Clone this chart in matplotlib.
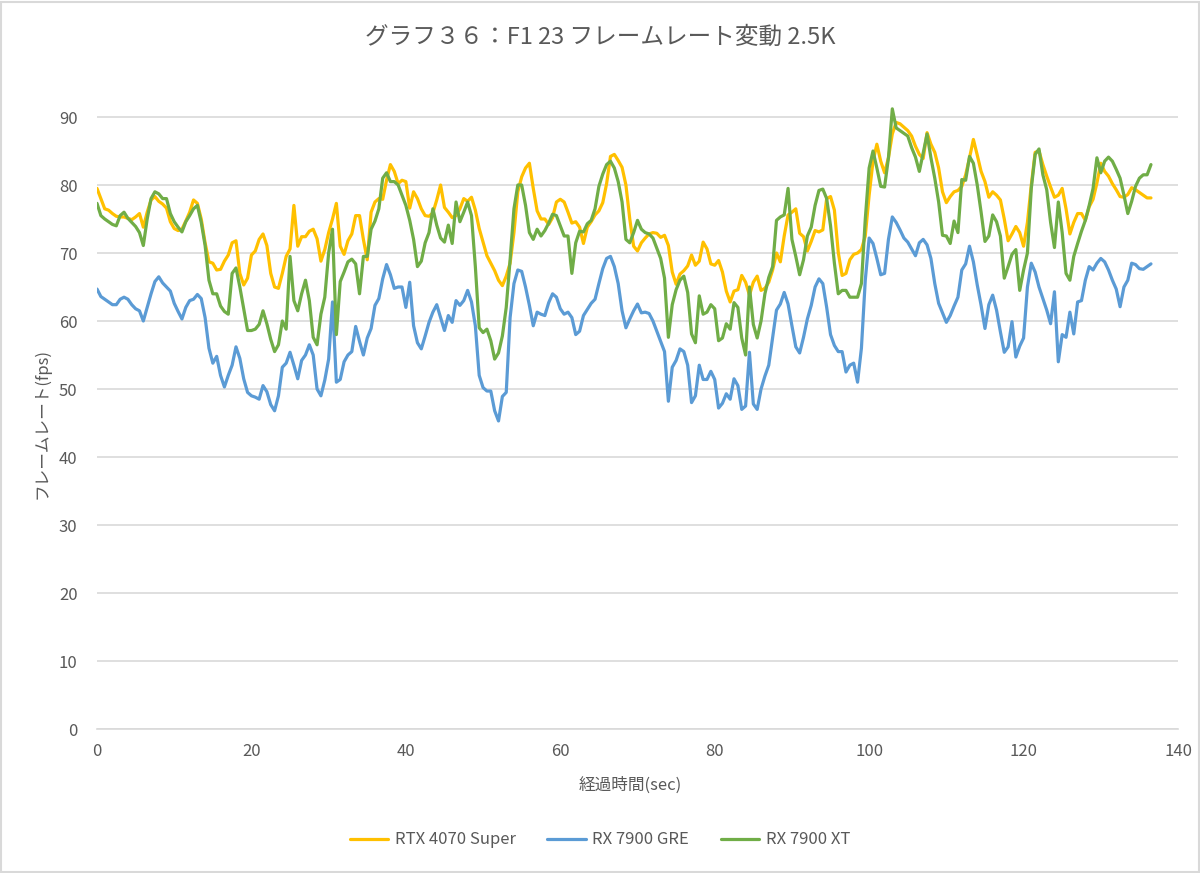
import numpy as np
import matplotlib
matplotlib.use("Agg")
import matplotlib.pyplot as plt
from matplotlib.patches import Rectangle

plt.rcParams['font.family'] = ['Noto Sans CJK JP', 'DejaVu Sans']

title = "グラフ３６：F1 23 フレームレート変動 2.5K"
x_label = "経過時間(sec)"
y_label = "フレームレート(fps)"
series_names = ["RTX 4070 Super", "RX 7900 GRE", "RX 7900 XT"]
x_ticks = [0, 20, 40, 60, 80, 100, 120, 140]
y_ticks = [0, 10, 20, 30, 40, 50, 60, 70, 80, 90]
step_sec = 0.5

rtx_4070_super = [
    79.5, 78, 76.5, 76.3, 75.8, 75.4, 75.3, 75.3, 75.1, 74.9,
    75.3, 75.8, 73.8, 76, 77.8, 78.3, 77.6, 77.2, 76.6, 74.6,
    73.6, 73.3, 73.5, 74.7, 76, 77.8, 77.3, 75, 71.5, 68.7,
    68.5, 67.5, 67.6, 68.8, 69.7, 71.5, 71.8, 67, 65.3, 66.3,
    69.7, 70.3, 72, 72.8, 71.1, 67, 65, 64.8, 67, 69.5,
    70.6, 77, 71, 72.4, 72.4, 73.2, 73.5, 72.1, 68.8, 70.5,
    73, 75, 77.3, 71, 69.8, 71.8, 72.8, 75.5, 75.5, 72,
    69, 76, 77.5, 78, 77.9, 80.7, 83, 82, 80.2, 80.7,
    80.5, 76.6, 79, 78, 76.5, 75.5, 75.4, 75.9, 77.8, 80,
    76.7, 76, 75.2, 75.5, 76.5, 78, 77.6, 78.2, 76.3, 73.6,
    71.6, 69.6, 68.5, 67.4, 66, 65.2, 66.6, 68.5, 73, 79,
    81.2, 82.5, 83.2, 79.5, 76.2, 75, 75, 74.2, 75.2, 77.5,
    77.9, 77.5, 76, 74.4, 74.6, 73.8, 71.4, 73.8, 74.6, 75.6,
    76.2, 77.4, 80.2, 84.2, 84.5, 83.6, 82.6, 80, 75, 71,
    70.3, 71.5, 72.2, 72.8, 73, 72.9, 72.3, 72.6, 71.1, 67.2,
    65.4, 66.9, 67.4, 68.1, 69.7, 68.2, 68.8, 71.6, 70.6, 68.4,
    68.2, 68.9, 67.2, 64.4, 62.8, 64.4, 64.6, 66.7, 65.7, 63.8,
    65.7, 66.6, 64.5, 64.8, 65.7, 67.5, 70, 68.7, 72.5, 75.6,
    76, 76.5, 72.9, 72.4, 70.3, 71.7, 73.3, 73.1, 73.4, 78,
    78.3, 76.3, 70.1, 66.7, 67, 69, 69.8, 70, 70.5, 72.5,
    78.5, 83.5, 86, 83.5, 81.8, 84, 87.5, 89.2, 89, 88.5,
    88, 87.2, 85.7, 84.5, 83.9, 87.7, 86, 84.8, 82.5, 79,
    77.4, 78.3, 79, 79.2, 79.8, 81.5, 84, 86.7, 84.4, 82,
    80.5, 78.2, 79, 78.5, 77.8, 75, 71.8, 72.8, 73.9, 73,
    71, 74.5, 80, 84.8, 85, 83, 81.3, 79.7, 78.2, 78.5,
    79.5, 76.5, 72.8, 74.5, 75.8, 75.8, 74.8, 76.8, 77.9, 80.3,
    83.2, 82, 81.3, 80.2, 79.3, 78.3, 78.2, 78.6, 79.6, 79.3,
    78.9, 78.5, 78.1, 78.1,
]

rx_7900_gre = [
    64.7, 63.6, 63.2, 62.8, 62.4, 62.4, 63.2, 63.5, 63.2, 62.4,
    61.8, 61.5, 60, 62, 64, 65.8, 66.5, 65.6, 65, 64.4,
    62.6, 61.4, 60.3, 62, 63, 63.2, 63.9, 63.3, 60.5, 56,
    53.8, 54.8, 52, 50.3, 52, 53.5, 56.2, 54.5, 51.5, 49.5,
    49, 48.8, 48.5, 50.5, 49.6, 47.7, 46.8, 49, 53.2, 53.8,
    55.4, 53.5, 51.5, 54.2, 55, 56.5, 55, 50, 49, 51.3,
    54.4, 62.8, 51, 51.4, 54, 55, 55.5, 59.2, 57, 55,
    57.5, 58.9, 62.3, 63.3, 66.2, 68.3, 66.8, 64.8, 65, 65,
    62, 65.7, 59.3, 56.8, 55.9, 57.8, 59.8, 61.3, 62.4, 60.5,
    58.6, 60.8, 59.8, 63, 62.3, 63, 64.5, 62.8, 59.3, 52,
    50.2, 49.7, 49.7, 46.8, 45.3, 48.9, 49.5, 60.5, 65.5, 67.5,
    67.3, 65, 62.3, 59.3, 61.3, 61, 60.8, 62.7, 64, 63.5,
    61.8, 61, 61.3, 60.5, 58, 58.5, 60.8, 61.7, 62.6, 63.2,
    65.5, 67.7, 69.2, 69.5, 68, 65.5, 61.5, 59, 60.3, 61.5,
    62.5, 61.2, 61.3, 61.1, 60, 58.5, 57, 55.5, 48.2, 53.2,
    54.2, 55.9, 55.5, 53.5, 48, 49, 53.5, 51.4, 51.4, 52.6,
    51.4, 47.2, 47.9, 49.3, 48.5, 51.5, 50.5, 47, 47.5, 55.4,
    47.8, 47, 50, 51.9, 53.5, 57.5, 61.6, 62.5, 64.2, 62.5,
    59.3, 56.2, 55.3, 57.6, 60.3, 62.3, 65, 66.2, 65.5, 62,
    58, 56.4, 55.5, 55.5, 52.5, 53.5, 53.8, 51, 56, 66,
    72.2, 71.4, 69.2, 66.8, 67, 72, 75.3, 74.5, 73.4,
    72.2, 71.6, 70.6, 69.6, 71.5, 72, 71.2, 69.2, 65.5, 62.6,
    61.2, 59.8, 60.8, 62.2, 63.5, 67.5, 68.4, 71, 68.7, 65.3,
    62.3, 58.9, 62.4, 63.8, 61.6, 58.4, 55.4, 56.2, 59.9, 54.7,
    56.3, 57.5, 65, 68.5, 67.2, 65, 63.3, 61.6, 59.6, 64.3,
    54, 58, 57.6, 61.3, 58.1, 62.8, 63, 66, 68, 67.5,
    68.5, 69.2, 68.7, 67.5, 66, 64.7, 62.1, 65, 66, 68.5,
    68.3, 67.7, 67.6, 68, 68.4,
]

rx_7900_xt = [
    77.3, 75.5, 75, 74.6, 74.2, 74, 75.5, 76, 75.1, 74.5,
    73.9, 73, 71.1, 75, 78, 79, 78.7, 78, 78, 75.8,
    74.6, 73.8, 73.1, 74.6, 75.5, 76.5, 77, 74.5, 71.1, 66,
    64, 64, 62.2, 61.4, 61, 67, 67.8, 65, 61.8, 58.6,
    58.6, 58.8, 59.5, 61.5, 59.6, 57.3, 55.5, 56.5, 60, 58.8,
    69.5, 63, 61.5, 64, 66, 63, 57.6, 56.5, 61, 63.5,
    70, 73.5, 58, 65.8, 67.2, 68.7, 69.1, 68.4, 64, 69.5,
    69.5, 73.5, 74.7, 76.5, 81, 81.8, 80.5, 80.5, 80, 78.5,
    77, 74.8, 72, 68, 68.8, 71.5, 73, 76.5, 74.1, 72.2,
    71.6, 74.1, 71.4, 77.5, 74.6, 76, 77.5, 75.5, 68, 59,
    58.3, 58.8, 57.1, 54.4, 55.3, 57.8, 62, 69, 76.5, 80,
    80, 77, 73, 72, 73.5, 72.5, 73.3, 74.4, 75.7, 75.5,
    74, 72.5, 72.5, 67, 71.5, 73.2, 73.1, 74.3, 74.8, 76.5,
    79.8, 81.6, 83, 83.5, 82.5, 80.5, 77.5, 72, 71.5, 73,
    74.8, 73.5, 73, 72.8, 72.2, 70.7, 69.2, 66.3, 57.6, 62.4,
    64.6, 66, 66.6, 64.2, 58.1, 56.8, 63.7, 61, 61.3, 62.4,
    61.8, 57.1, 57.5, 59.6, 58.8, 62.7, 62, 57.5, 55, 65,
    59.5, 57.5, 60, 64, 66.4, 68, 74.8, 75.3, 75.6, 79.5,
    72, 69.5, 66.8, 69, 72.5, 73.8, 77, 79.2, 79.4, 78,
    74, 68.5, 64, 64.5, 64.5, 63.5, 63.5, 63.5, 65.5, 75,
    82.5, 85, 82.5, 79.8, 79.7, 84, 91.2, 88.4, 88, 87.6,
    87.2, 85.5, 84.1, 82, 84.7, 87.5, 84, 81, 77.5, 72.6,
    72.5, 71.4, 74.7, 73, 80.8, 80.7, 84.2, 83.2, 80, 76,
    71.7, 72.5, 75.6, 74.6, 72.5, 66.3, 68, 69.8, 70.5, 64.5,
    67.5, 70, 79.5, 84.5, 85.3, 81.5, 79.3, 74.5, 70.8, 77.5,
    73, 67, 66, 69.5, 71.4, 73.2, 74.8, 77, 79.5, 84,
    81.8, 83.5, 84.1, 83.5, 82.3, 81, 78.5, 75.8, 77.6, 79.8,
    81, 81.5, 81.5, 83,
]

colors = ["#FFC000", "#5B9BD5", "#70AD47"]
text_color = "#595959"
grid_color = "#D9D9D9"

W, H = 1200, 873
fig = plt.figure(figsize=(W / 100, H / 100), dpi=100)
fig.patch.set_facecolor("white")
fig.patches.append(Rectangle((0.001, 0.001), 0.998, 0.997, transform=fig.transFigure,
                             fill=False, edgecolor=grid_color, linewidth=1.5))

y_max = 92
left_px, right_px, y0_px = 97, 1178, 729
px_per_unit = 6.8
top_px = y0_px - y_max * px_per_unit
ax = fig.add_axes([left_px / W, 1 - y0_px / H, (right_px - left_px) / W, (y0_px - top_px) / H])

for name, vals, c in zip(series_names, [rtx_4070_super, rx_7900_gre, rx_7900_xt], colors):
    t = np.arange(len(vals)) * step_sec
    ax.plot(t, vals, color=c, linewidth=2.3, label=name, solid_joinstyle="round",
            solid_capstyle="round", zorder=3)

ax.set_xlim(0, 140)
ax.set_ylim(0, y_max)
ax.set_xticks(x_ticks)
ax.set_yticks(y_ticks)
ax.grid(axis="y", color=grid_color, linewidth=1.2, zorder=0)
ax.set_axisbelow(True)
for s in ["top", "right", "left"]:
    ax.spines[s].set_visible(False)
ax.spines["bottom"].set_color(grid_color)
ax.spines["bottom"].set_linewidth(1.2)
ax.tick_params(axis="both", length=0, labelsize=12, colors=text_color, pad=10)
ax.tick_params(axis="y", pad=14)

fig.text(0.5, 1 - 37 / H, title, ha="center", va="center", fontsize=17, color=text_color)
fig.text(630 / W, 1 - 785 / H, x_label, ha="center", va="center", fontsize=12, color=text_color)
fig.text(42 / W, 1 - 423 / H, y_label, ha="center", va="center", rotation=90,
         fontsize=12, color=text_color)

fig.legend(loc="center", bbox_to_anchor=(0.5, 1 - 840 / H), ncol=3, frameon=False,
           fontsize=12, labelcolor=text_color, handlelength=2.3, handletextpad=0.4,
           columnspacing=1.9)

fig.savefig("out.png", dpi=100, facecolor="white")
